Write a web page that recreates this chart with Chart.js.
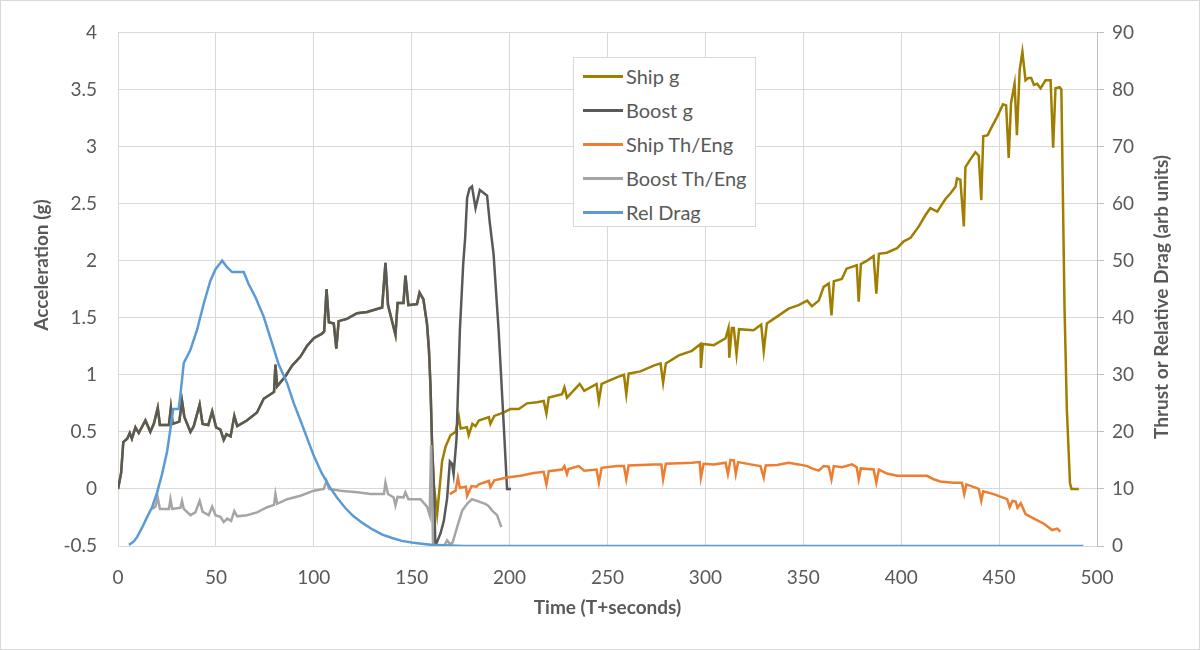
<!DOCTYPE html>
<html>
<head>
<meta charset="utf-8">
<script src="https://cdn.jsdelivr.net/npm/chart.js@4.4.0/dist/chart.umd.min.js"></script>
<style>
  body { margin: 0; background: #fff; }
  #wrap { position: relative; width: 1200px; height: 650px; }
  #legend {
    position: absolute; left: 573px; top: 57px; width: 183px; height: 170px;
    box-sizing: border-box; border: 1px solid #D9D9D9; background: #fff;
    font-family: Lato, sans-serif; font-size: 20px; color: #595959; padding-top: 1px;
  }
  .item { display: flex; align-items: center; height: 34px; }
  .swatch { width: 40px; height: 3px; margin-left: 9px; margin-right: 3px; }
</style>
</head>
<body>
<div id="wrap">
  <canvas id="myChart" width="1200" height="650"></canvas>
  <div id="legend"></div>
</div>
<script>
// [time s, g]
const boostG = [
  [0,0],[1.6,0.14],[2.7,0.41],[4.7,0.44],[6.0,0.49],[7.1,0.44],[8.9,0.54],[10.6,0.49],[14.0,0.6],[16.5,0.5],
  [18.3,0.57],[20.3,0.71],[21.4,0.56],[26.0,0.56],[27.0,0.71],[27.9,0.57],[31.3,0.59],[32.7,0.77],[33.9,0.63],
  [37.0,0.5],[38.7,0.55],[41.7,0.74],[43.2,0.57],[46.1,0.56],[48.1,0.68],[50.1,0.54],[52.3,0.52],[54.0,0.43],
  [55.4,0.48],[57.5,0.46],[59.4,0.64],[60.9,0.55],[65.8,0.6],[71.0,0.67],[74.4,0.79],[79.7,0.85],[80.4,1.09],
  [81.3,0.9],[85.6,0.99],[88.9,1.08],[93.2,1.16],[96.4,1.25],[100,1.32],[104.2,1.36],[105.3,1.38],[106.5,1.75],
  [107.7,1.46],[110.2,1.45],[111.5,1.23],[112.7,1.47],[116.9,1.49],[122.1,1.54],[127.2,1.55],[134.9,1.59],
  [136.6,1.98],[137.9,1.61],[141.7,1.35],[142.8,1.63],[145.8,1.63],[146.8,1.87],[148.3,1.61],[152.7,1.62],
  [154.0,1.72],[156.0,1.66],[157.0,1.54],[157.8,1.45],[158.8,1.22],[159.6,0.9],[160.4,0.39],[161.3,0.04],
  [162.1,-0.5],[164.7,-0.39],[166.4,-0.28],[168.1,-0.08],[169.5,0.24],[170.6,0.22],[171.4,0.13],[172.9,0.44],
  [174.6,1.39],[176.3,1.97],[177.3,2.2],[178.3,2.55],[179.5,2.63],[180.8,2.65],[182.6,2.46],[184.8,2.62],
  [188.5,2.57],[189.9,2.33],[191.8,2.06],[194.4,1.39],[197.1,0.53],[198.7,0],[200.7,0]
];
// ship rides on the booster until staging (same values up to t=161.3)
const shipGSharedUntil = 161.3;
const shipGAfterSep = [
  [163.0,-0.22],[165.5,0.24],[167.3,0.37],[169.8,0.47],[172.4,0.5],[174.1,0.63],[175.0,0.53],[178.2,0.54],
  [179.1,0.47],[181.0,0.57],[182.6,0.55],[184.3,0.6],[189.4,0.63],[190.2,0.57],[192.2,0.64],[197.1,0.67],
  [200.4,0.7],[204.7,0.7],[208.9,0.75],[214.0,0.76],[217.4,0.77],[218.8,0.66],[220.0,0.8],[226.8,0.83],
  [228.0,0.89],[229.3,0.8],[235.8,0.92],[238.1,0.86],[244.4,0.92],[245.6,0.77],[247.0,0.92],[255.0,0.98],
  [258.4,1.0],[259.6,0.83],[260.8,1.01],[266.8,1.03],[273.6,1.08],[277.1,1.1],[278.4,0.93],[279.8,1.1],
  [286.4,1.17],[293.1,1.21],[297.5,1.27],[297.7,1.06],[298.7,1.27],[304.3,1.26],[310.3,1.32],[311.8,1.41],
  [312.2,1.15],[313.5,1.41],[314.5,1.41],[315.9,1.18],[317.2,1.4],[324.6,1.39],[328.5,1.44],[329.8,1.21],
  [331.4,1.45],[336.6,1.51],[342.5,1.58],[347.6,1.61],[352.0,1.65],[354.4,1.6],[357.9,1.65],[360.4,1.77],
  [363.0,1.8],[364.4,1.52],[365.6,1.82],[369.7,1.84],[372.1,1.93],[375.6,1.95],[377.3,1.96],[378.3,1.64],
  [379.4,1.97],[382.5,2.0],[385.9,2.04],[387.3,1.71],[388.6,2.06],[392.7,2.07],[397.9,2.11],[401.3,2.17],
  [404.8,2.2],[409.0,2.3],[412.4,2.4],[414.9,2.46],[418.4,2.43],[422.6,2.54],[425.2,2.59],[427.8,2.65],
  [428.5,2.72],[430.2,2.71],[432.0,2.3],[432.8,2.82],[435.4,2.89],[437.9,2.95],[439.6,2.92],[440.9,2.53],
  [441.9,3.09],[444.2,3.1],[445.6,3.15],[449.0,3.26],[452.0,3.37],[453.6,3.36],[454.9,2.9],[456.1,3.38],
  [457.9,3.55],[459.1,3.1],[460.5,3.67],[461.9,3.83],[463.5,3.58],[464.9,3.6],[466.4,3.6],[467.8,3.54],
  [469.4,3.55],[471.2,3.51],[473.7,3.58],[476.3,3.58],[477.6,2.99],[478.8,3.51],[480.9,3.52],[481.8,3.5],
  [483.4,1.6],[484.6,0.7],[486.2,0.05],[487.0,0],[490.7,0]
];
// [time s, arb units] on the right axis
const shipTh = [
  [169.4,9.1],[172.4,9.7],[173.6,12.0],[174.6,10.2],[177.7,10.4],[178.3,8.8],[180.6,10.5],[183.1,10.4],
  [184.3,10.8],[189.4,11.4],[190.2,10.3],[192.2,11.5],[198.6,12.0],[205.6,12.3],[212.4,12.8],[217.4,13.0],
  [218.8,10.8],[220.0,13.1],[226.8,13.4],[228.0,14.0],[229.3,12.6],[230.1,13.5],[235.3,14.0],[238.1,13.2],
  [244.4,13.4],[245.6,11.1],[247.0,13.7],[255.0,14.0],[258.4,14.0],[259.6,11.7],[260.8,14.1],[273.6,14.3],
  [277.5,14.3],[278.4,11.7],[279.8,14.4],[293.1,14.6],[297.1,14.7],[297.7,12.0],[299.1,14.4],[304.3,14.3],
  [310.3,14.6],[311.5,12.6],[312.8,15.1],[314.5,15.0],[315.5,12.6],[316.7,14.7],[323.0,14.3],[328.1,14.0],
  [329.8,12.0],[330.8,14.1],[336.6,14.2],[342.5,14.6],[347.6,14.3],[352.0,14.0],[354.4,13.6],[357.9,13.2],
  [360.4,14.0],[363.0,13.9],[364.4,11.7],[365.6,14.0],[369.7,13.8],[374.9,14.3],[377.3,13.8],[378.3,11.7],
  [379.4,13.6],[385.9,13.4],[387.3,11.1],[388.6,13.4],[392.7,12.7],[397.9,12.3],[406.3,12.3],[413.2,12.3],
  [416.6,11.7],[420.0,11.3],[426.8,11.1],[431.0,11.1],[432.2,9.1],[433.3,10.8],[439.6,10.0],[440.9,7.9],
  [441.9,9.6],[447.2,9.1],[454.1,8.2],[455.4,6.8],[456.8,7.9],[458.5,7.8],[459.4,6.7],[461.1,7.5],
  [463.5,5.6],[467.8,4.8],[472.9,3.9],[477.1,2.8],[479.7,3.05],[481.3,2.5]
];
const boostTh = [
  [17.4,6.5],[19.1,6.9],[20.3,8.5],[21.4,6.5],[26.0,6.5],[26.8,8.2],[27.7,6.5],[31.9,6.7],[32.7,7.9],
  [33.6,6.5],[37.0,5.4],[39.5,5.9],[41.7,7.9],[43.2,6.0],[46.3,5.4],[48.1,6.9],[49.8,5.4],[52.3,5.1],
  [54.0,4.2],[55.8,4.8],[57.8,4.4],[59.4,6.1],[60.9,5.2],[65.8,5.4],[71.0,5.9],[76.2,6.8],[79.7,7.2],
  [80.4,9.1],[81.3,7.4],[86.4,8.2],[93.2,8.8],[100.0,9.7],[105.1,10.0],[106.5,11.4],[107.8,10.0],
  [113.6,9.7],[122.1,9.4],[129.0,9.1],[135.8,9.1],[136.6,11.1],[137.9,9.1],[140.8,8.5],[141.7,7.1],
  [142.8,8.6],[145.8,8.5],[146.8,9.4],[148.3,8.2],[154.5,8.2],[157.8,6.9],[159.2,5.4],[159.9,17.7],
  [160.9,0],[166.5,0],[168.1,1.0],[169.6,0.3],[170.9,0.6],[173.2,3.3],[175.8,6.2],[178.3,7.4],
  [180.8,8.2],[183.3,7.9],[185.8,7.6],[187.5,7.4],[189.2,7.0],[191.1,6.2],[193.6,5.4],[195.8,3.3]
];
const relDrag = [
  [5.6,0.2],[8.1,0.8],[9.8,1.6],[12.4,3.3],[14.9,5.1],[17.4,6.8],[20.0,9.4],[22.5,12.6],[25.1,16.6],
  [27.3,21.8],[28.2,24.0],[31.0,24.0],[32.0,26.9],[33.6,32.1],[35.0,33.0],[37.0,34.4],[40.4,37.9],
  [43.8,42.5],[47.2,46.5],[49.8,48.5],[53.2,50.0],[55.8,48.8],[58.3,48.0],[64.2,48.0],[66.7,45.9],
  [70.2,43.6],[74.4,40.2],[77.9,36.4],[82.1,31.8],[86.4,28.5],[89.8,25.0],[93.2,22.0],[96.5,19.0],
  [100,15.8],[104,12.8],[108,10.4],[112,8.4],[116,6.7],[120,5.3],[125,4.0],[130,2.9],[135,2.0],
  [140,1.4],[145,0.9],[150,0.6],[155,0.4],[160,0.2],[170,0.1],[176,0],[493,0]
];

const seriesNames = ["Ship g", "Boost g", "Ship Th/Eng", "Boost Th/Eng", "Rel Drag"];
const seriesColors = ["#9F7E00", "#595959", "#ED7D31", "#A5A5A5", "#5B9BD5"];
const leftTitle = "Acceleration (g)";
const rightTitle = "Thrust or Relative Drag (arb units)";
const xTitle = "Time (T+seconds)";

const shipG = boostG.filter(p => p[0] <= shipGSharedUntil).concat(shipGAfterSep);
const seriesData = [shipG, boostG, shipTh, boostTh, relDrag];
const seriesAxis = ["y", "y", "y1", "y1", "y1"];

const textColor = "#595959";
Chart.defaults.font.family = "Lato, sans-serif";
Chart.defaults.color = textColor;

// white background, thin frame and the two rotated y titles
const frame = {
  id: "frame",
  beforeDraw(chart) {
    const c = chart.ctx;
    c.save();
    c.fillStyle = "#fff";
    c.fillRect(0, 0, chart.width, chart.height);
    c.strokeStyle = "#D9D9D9";
    c.lineWidth = 1;
    c.strokeRect(0.5, 0.5, chart.width - 1, chart.height - 1);
    c.restore();
  },
  afterDraw(chart) {
    const c = chart.ctx;
    c.save();
    c.fillStyle = textColor;
    c.font = "bold 19px Lato, sans-serif";
    c.textAlign = "center";
    c.textBaseline = "middle";
    c.translate(42, 265);
    c.rotate(-Math.PI / 2);
    c.fillText(leftTitle, 0, 0);
    c.restore();
    c.save();
    c.fillStyle = textColor;
    c.font = "bold 19px Lato, sans-serif";
    c.textAlign = "center";
    c.textBaseline = "middle";
    c.translate(1162, 297);
    c.rotate(-Math.PI / 2);
    c.fillText(rightTitle, 0, 0);
    c.restore();
  }
};

const ctx = document.getElementById("myChart");
new Chart(ctx, {
  type: "line",
  data: {
    datasets: seriesNames.map((name, i) => ({
      label: name,
      data: seriesData[i].map(p => ({ x: p[0], y: p[1] })),
      borderColor: seriesColors[i],
      backgroundColor: seriesColors[i],
      borderWidth: 2.5,
      pointRadius: 0,
      tension: 0,
      yAxisID: seriesAxis[i],
      order: 5 - i
    }))
  },
  options: {
    responsive: false,
    animation: false,
    layout: { padding: { top: 24, left: 0, right: 0, bottom: 0 } },
    plugins: { legend: { display: false }, tooltip: { enabled: false } },
    scales: {
      x: {
        type: "linear", min: 0, max: 500,
        afterFit: s => { s.height = 104; },
        ticks: { stepSize: 50, font: { size: 19 }, padding: 20, maxRotation: 0 },
        grid: { color: "#D9D9D9", drawTicks: false },
        border: { color: "#D9D9D9" },
        title: { display: true, text: xTitle, font: { size: 19, weight: "bold" }, padding: { top: 0, bottom: 31 } }
      },
      y: {
        position: "left", min: -0.5, max: 4,
        afterFit: s => { s.width = 118; },
        ticks: { stepSize: 0.5, font: { size: 19 }, padding: 21, callback: v => String(+v.toFixed(1)) },
        grid: { color: "#D9D9D9", drawTicks: false },
        border: { color: "#D9D9D9" }
      },
      y1: {
        position: "right", min: 0, max: 90,
        afterFit: s => { s.width = 103; },
        ticks: { stepSize: 10, font: { size: 19 }, padding: 8 },
        grid: { drawOnChartArea: false, color: "#BFBFBF", tickLength: 7 },
        border: { color: "#BFBFBF" }
      }
    }
  },
  plugins: [frame]
});

// legend box inside the plot, as in the original
const legend = document.getElementById("legend");
seriesNames.forEach((name, i) => {
  const row = document.createElement("div");
  row.className = "item";
  const sw = document.createElement("span");
  sw.className = "swatch";
  sw.style.background = seriesColors[i];
  const label = document.createElement("span");
  label.textContent = name;
  row.appendChild(sw);
  row.appendChild(label);
  legend.appendChild(row);
});
</script>
</body>
</html>
